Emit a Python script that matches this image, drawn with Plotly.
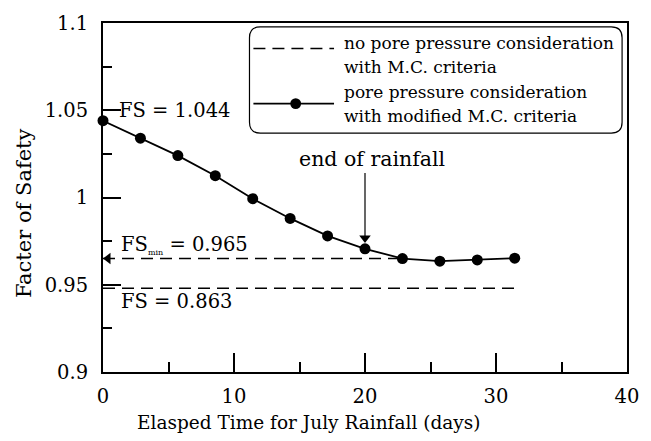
import plotly.graph_objects as go

# ---- data ----
days = [0, 2.857, 5.714, 8.571, 11.429, 14.286, 17.143, 20.0, 22.857, 25.714, 28.571, 31.429]
fs_pore = [1.044, 1.034, 1.024, 1.0125, 0.9993, 0.988, 0.978, 0.9706, 0.965, 0.9635, 0.9642, 0.9652]
no_pore_x = [0, 31.429]
no_pore_fs = [0.948, 0.948]
fsmin_x = [0, 22.857]
fsmin_fs = [0.965, 0.965]
rain_end_day = 20.0

x_ticks = [0, 10, 20, 30, 40]
y_ticks = [0.9, 0.95, 1.0, 1.05, 1.1]

FONT = "DejaVu Serif"
DASH = "12px,7px"

fig = go.Figure()
fig.add_trace(go.Scatter(x=no_pore_x, y=no_pore_fs, mode="lines",
                         line=dict(color="black", width=1.5, dash=DASH), showlegend=False))
fig.add_trace(go.Scatter(x=fsmin_x, y=fsmin_fs, mode="lines",
                         line=dict(color="black", width=1.5, dash=DASH), showlegend=False))
fig.add_trace(go.Scatter(x=days, y=fs_pore, mode="lines+markers",
                         line=dict(color="black", width=1.8),
                         marker=dict(color="black", size=11),
                         cliponaxis=False, showlegend=False))

i_end = days.index(rain_end_day)
# end-of-rainfall arrow: shaft + head
fig.add_trace(go.Scatter(x=[rain_end_day, rain_end_day], y=[fs_pore[i_end] + 0.0435, fs_pore[i_end] + 0.0065],
                         mode="lines", line=dict(color="black", width=1.2), showlegend=False,
                         hoverinfo="skip"))
fig.add_trace(go.Scatter(x=[rain_end_day], y=[fs_pore[i_end] + 0.0062], mode="markers",
                         marker=dict(symbol="triangle-down", size=10, color="black"),
                         showlegend=False, hoverinfo="skip"))
# FS_min arrow head at y axis
fig.add_trace(go.Scatter(x=[0.38], y=[fsmin_fs[0]], mode="markers",
                         marker=dict(symbol="triangle-left", size=10, color="black"),
                         cliponaxis=False, showlegend=False, hoverinfo="skip"))

L, R, T, B = 103, 15, 17, 69
W, H = 651, 441
pw, ph = W - L - R, H - T - B

def px(xp):
    return (xp - L) / pw

def py(yp):
    return (H - B - yp) / ph

# legend box (rounded)
x0, x1, y0, y1 = px(252), px(631), py(129), py(21)
rx, ry = 11 / pw, 11 / ph
path = (f"M {x0+rx},{y1} L {x1-rx},{y1} Q {x1},{y1} {x1},{y1-ry} "
        f"L {x1},{y0+ry} Q {x1},{y0} {x1-rx},{y0} L {x0+rx},{y0} "
        f"Q {x0},{y0} {x0},{y0+ry} L {x0},{y1-ry} Q {x0},{y1} {x0+rx},{y1} Z")
shapes = [
    dict(type="path", path=path, xref="paper", yref="paper",
         line=dict(color="black", width=1.2), fillcolor="white", layer="above"),
    dict(type="line", xref="paper", yref="paper", x0=px(256), x1=px(338), y0=py(43), y1=py(43),
         line=dict(color="black", width=1.5, dash=DASH), layer="above"),
    dict(type="line", xref="paper", yref="paper", x0=px(256), x1=px(338), y0=py(99), y1=py(99),
         line=dict(color="black", width=1.8), layer="above"),
    dict(type="circle", xref="paper", yref="paper",
         x0=px(299 - 5.5), x1=px(299 + 5.5), y0=py(99 + 5.5), y1=py(99 - 5.5),
         fillcolor="black", line=dict(color="black", width=0), layer="above"),
]

annots = []
leg_lines = [("no pore pressure consideration", 37), ("with M.C. criteria", 62),
             ("pore pressure consideration", 87), ("with modified M.C. criteria", 112)]
for txt, yp in leg_lines:
    annots.append(dict(text=txt, xref="paper", yref="paper", x=px(346), y=py(yp),
                       xanchor="left", yanchor="middle", showarrow=False,
                       font=dict(family=FONT, size=17, color="black")))

annots += [
    dict(text="FS = 1.044", x=1.1, y=1.05, xanchor="left", yanchor="middle", showarrow=False,
         font=dict(family=FONT, size=19.5, color="black")),
    dict(text="FS<sub><span style='font-size:8px'>min</span></sub> = 0.965", x=1.25, y=0.9725,
         xanchor="left", yanchor="middle", showarrow=False,
         font=dict(family=FONT, size=19.5, color="black")),
    dict(text="FS = 0.863", x=1.25, y=0.9405, xanchor="left", yanchor="middle", showarrow=False,
         font=dict(family=FONT, size=19.5, color="black")),
    dict(text="end of rainfall", x=14.8, y=1.0223, xanchor="left", yanchor="middle", showarrow=False,
         font=dict(family=FONT, size=20.5, color="black")),
    dict(text="Elasped Time for July Rainfall (days)", xref="paper", yref="paper",
         x=px(312), y=py(423), xanchor="center", yanchor="middle", showarrow=False,
         font=dict(family=FONT, size=18.5, color="black")),
    dict(text="Facter of Safety", xref="paper", yref="paper",
         x=px(22), y=py(210), xanchor="center", yanchor="middle", showarrow=False, textangle=-90,
         font=dict(family=FONT, size=21, color="black")),
]

fig.update_layout(
    width=W, height=H,
    margin=dict(l=L, r=R, t=T, b=B),
    paper_bgcolor="white", plot_bgcolor="white",
    font=dict(family=FONT, color="black"),
    shapes=shapes, annotations=annots,
    xaxis=dict(range=[0, 40], tickvals=x_ticks, ticktext=[str(v) for v in x_ticks],
               ticks="inside", ticklen=19, tickwidth=1.5, tickcolor="black",
               minor=dict(tickvals=[5, 15, 25, 35], ticks="inside", ticklen=10, tickwidth=1.5,
                          tickcolor="black"),
               showline=True, linecolor="black", linewidth=2, mirror=True,
               showgrid=False, zeroline=False, ticklabelstandoff=6,
               tickfont=dict(family=FONT, size=19.5, color="black")),
    yaxis=dict(range=[0.9, 1.1], tickvals=y_ticks,
               ticktext=["0.9", "0.95", "1", "1.05", "1.1"],
               ticks="inside", ticklen=18, tickwidth=1.5, tickcolor="black",
               minor=dict(tickvals=[0.925, 0.975, 1.025, 1.075], ticks="inside", ticklen=9,
                          tickwidth=1.5, tickcolor="black"),
               showline=True, linecolor="black", linewidth=2, mirror=True,
               showgrid=False, zeroline=False, ticklabelstandoff=9,
               tickfont=dict(family=FONT, size=19.5, color="black")),
)

fig.write_html("out.html")
